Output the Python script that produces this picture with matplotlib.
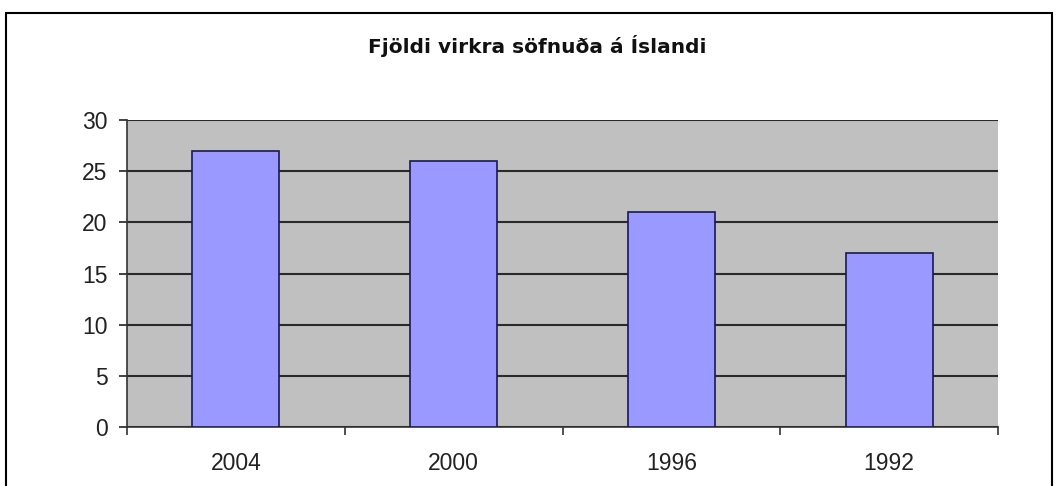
import matplotlib.pyplot as plt
from matplotlib.patches import Rectangle
import numpy as np

# Data
years = ['2004', '2000', '1996', '1992']
congregations = [27, 26, 21, 17]
title = 'Fjöldi virkra söfnuða á Íslandi'

plt.rcParams['font.family'] = ['Liberation Sans', 'DejaVu Sans']

fig = plt.figure(figsize=(10.62, 4.86), dpi=100)
ax = fig.add_axes([127 / 1062, 1 - 427 / 486, (998 - 127) / 1062, (427 - 120) / 486])

x = np.arange(len(years))
ax.bar(x, congregations, width=0.4, color='#9999ff', edgecolor='#1a1a4d',
       linewidth=1.2, zorder=3)

ax.set_facecolor('#c0c0c0')
ax.set_xlim(-0.5, len(years) - 0.5)
ax.set_ylim(0, 30)
ax.set_yticks(range(0, 31, 5))
ax.yaxis.grid(True, color='#2a2a2a', linewidth=1.5, zorder=1)
ax.set_axisbelow(True)

ax.set_xticks(x)
ax.set_xticklabels(years)
ax.set_xticks(np.arange(-0.5, len(years), 1), minor=True)
ax.tick_params(axis='x', which='major', length=0, pad=18, labelsize=16.5, colors='#222222')
ax.tick_params(axis='x', which='minor', length=6, width=1.2, color='#333333')
ax.tick_params(axis='y', length=6, width=1.2, pad=8, labelsize=16.5, colors='#222222')

for side in ['top', 'right']:
    ax.spines[side].set_visible(False)
ax.spines['left'].set_color('#333333')
ax.spines['bottom'].set_color('#333333')
ax.spines['left'].set_linewidth(1.2)
ax.spines['bottom'].set_linewidth(1.2)

# title: wider face to match the original's spacing
fig.text(537 / 1062, 1 - 53 / 486, title, ha='center', va='baseline',
         fontsize=14.5, fontweight='bold', color='#111111', family='DejaVu Sans')

# frame around the chart, cut off at the bottom edge
frame = Rectangle((6 / 1062, -0.1), (1052 - 6) / 1062, 1.1 - 13 / 486,
                  transform=fig.transFigure, fill=False, edgecolor='black',
                  linewidth=1.5, clip_on=False)
fig.patches.append(frame)

fig.savefig('out.png', dpi=100)
